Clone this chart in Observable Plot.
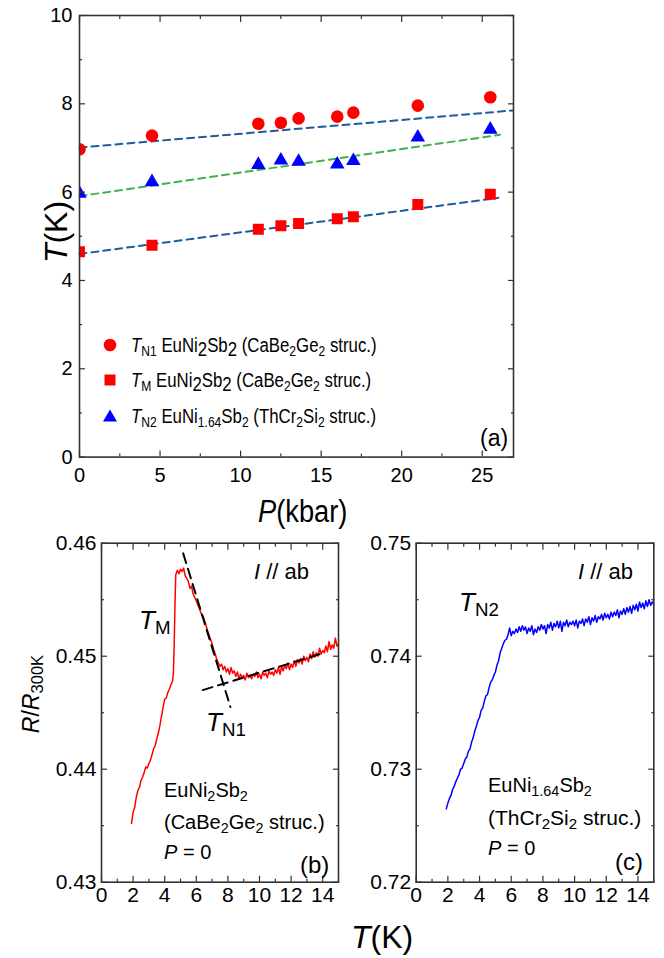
<!DOCTYPE html>
<html><head><meta charset="utf-8">
<script src="https://cdn.jsdelivr.net/npm/d3@7"></script>
<script src="https://cdn.jsdelivr.net/npm/@observablehq/plot@0.6"></script>
<style>
body{margin:0;background:#fff;}
#root{position:relative;width:664px;height:958px;overflow:hidden;font-family:"Liberation Sans",Arial,sans-serif;color:#000;}
.t{position:absolute;white-space:nowrap;line-height:1;}
.t sub{font-size:72%;vertical-align:-0.28em;line-height:0;}
.lo{vertical-align:-0.22em;line-height:0;}
.sx{display:inline-block;transform-origin:0 50%;}
</style></head><body><div id="root"></div>
<script>
// ---- panel (a): transition temperatures vs pressure ----
const pressure = [0, 4.5, 11.1, 12.5, 13.6, 16.0, 17.0, 21.0, 25.5];
const tN1 = [6.97, 7.28, 7.55, 7.57, 7.67, 7.71, 7.80, 7.96, 8.15];
const tM  = [4.65, 4.80, 5.16, 5.24, 5.29, 5.40, 5.44, 5.72, 5.95];
const tN2 = [5.97, 6.23, 6.62, 6.72, 6.69, 6.63, 6.71, 7.24, 7.42];
// dashed linear fits (end points)
const fitN1P = [0, 26.9], fitN1T = [7.01, 7.85];
const fitN2P = [0, 26.1], fitN2T = [5.91, 7.30];
const fitMP  = [0, 26.0], fitMT  = [4.60, 5.87];
const aXMajor = [0, 5, 10, 15, 20, 25], aXMinor = [2.5, 7.5, 12.5, 17.5, 22.5];
const aYMajor = [0, 2, 4, 6, 8, 10], aYMinor = [1, 3, 5, 7, 9];

// ---- panel (b): EuNi2Sb2 R/R300K vs T ----
const tempB = [1.9,2.0,2.1,2.2,2.3,2.4,2.5,2.6,2.7,2.8,2.9,3.0,3.1,3.2,3.3,3.4,3.5,3.6,3.7,3.8,3.9,4.0,4.1,4.2,4.3,4.4,4.5,4.55,4.6,4.65,4.7,4.8,4.9,5.0,5.1,5.2,5.3,5.4,5.5,5.6,5.7,5.8,5.9,6.0,6.1,6.2,6.3,6.4,6.5,6.6,6.7,6.8,6.9,7.0,7.1,7.2,7.3,7.4,7.5,7.6,7.7,7.8,7.9,8.0,8.1,8.2,8.3,8.4,8.5,8.6,8.7,8.8,8.9,9.0,9.1,9.2,9.3,9.4,9.5,9.6,9.7,9.8,9.9,10.0,10.1,10.2,10.3,10.4,10.5,10.6,10.7,10.8,10.9,11.0,11.1,11.2,11.3,11.4,11.5,11.6,11.7,11.8,11.9,12.0,12.1,12.2,12.3,12.4,12.5,12.6,12.7,12.8,12.9,13.0,13.1,13.2,13.3,13.4,13.5,13.6,13.7,13.8,13.9,14.0,14.1,14.2,14.3,14.4,14.5,14.6,14.7,14.8,14.9,15.0];
const rB = [0.4352,0.4362,0.4366,0.4375,0.4381,0.4384,0.4390,0.4393,0.4397,0.4402,0.4401,0.4405,0.4408,0.4413,0.4418,0.4421,0.4427,0.4432,0.4439,0.4447,0.4455,0.4462,0.4463,0.4468,0.4471,0.4475,0.4478,0.4485,0.4510,0.4545,0.4572,0.4576,0.4573,0.4577,0.4575,0.4578,0.4571,0.4569,0.4566,0.4560,0.4562,0.4555,0.4552,0.4549,0.4545,0.4542,0.4538,0.4536,0.4532,0.4528,0.4523,0.4519,0.4515,0.4511,0.4506,0.4502,0.4497,0.4494,0.4491,0.4493,0.4488,0.4491,0.4486,0.4489,0.4484,0.4490,0.4485,0.4487,0.4482,0.4486,0.4480,0.4484,0.4481,0.4483,0.4479,0.4485,0.4481,0.4483,0.4480,0.4484,0.4482,0.4486,0.4481,0.4484,0.4480,0.4486,0.4483,0.4485,0.4481,0.4487,0.4484,0.4486,0.4483,0.4488,0.4485,0.4490,0.4484,0.4491,0.4487,0.4492,0.4489,0.4494,0.4488,0.4493,0.4490,0.4496,0.4491,0.4497,0.4494,0.4498,0.4493,0.4500,0.4496,0.4499,0.4495,0.4502,0.4498,0.4504,0.4499,0.4503,0.4500,0.4507,0.4502,0.4505,0.4503,0.4509,0.4504,0.4513,0.4506,0.4510,0.4507,0.4516,0.4509,0.4511];
const guideAT = [5.17, 8.16], guideAR = [0.4591, 0.4455];
const guideBT = [6.41, 13.86], guideBR = [0.4470, 0.4502];

// ---- panel (c): EuNi1.64Sb2 R/R300K vs T ----
const tempC = [1.9,2.0,2.1,2.2,2.3,2.4,2.5,2.6,2.7,2.8,2.9,3.0,3.1,3.2,3.3,3.4,3.5,3.6,3.7,3.8,3.9,4.0,4.1,4.2,4.3,4.4,4.5,4.6,4.7,4.8,4.9,5.0,5.1,5.2,5.3,5.4,5.5,5.6,5.7,5.8,5.9,6.0,6.1,6.2,6.3,6.4,6.5,6.6,6.7,6.8,6.9,7.0,7.1,7.2,7.3,7.4,7.5,7.6,7.7,7.8,7.9,8.0,8.1,8.2,8.3,8.4,8.5,8.6,8.7,8.8,8.9,9.0,9.1,9.2,9.3,9.4,9.5,9.6,9.7,9.8,9.9,10.0,10.1,10.2,10.3,10.4,10.5,10.6,10.7,10.8,10.9,11.0,11.1,11.2,11.3,11.4,11.5,11.6,11.7,11.8,11.9,12.0,12.1,12.2,12.3,12.4,12.5,12.6,12.7,12.8,12.9,13.0,13.1,13.2,13.3,13.4,13.5,13.6,13.7,13.8,13.9,14.0,14.1,14.2,14.3,14.4,14.5,14.6,14.7,14.8,14.9,15.0];
const rC = [0.7265,0.7270,0.7274,0.7277,0.7282,0.7285,0.7289,0.7292,0.7295,0.7300,0.7301,0.7305,0.7309,0.7311,0.7316,0.7318,0.7324,0.7328,0.7334,0.7338,0.7343,0.7346,0.7352,0.7354,0.7360,0.7365,0.7366,0.7372,0.7377,0.7379,0.7383,0.7386,0.7392,0.7396,0.7403,0.7407,0.7411,0.7414,0.7415,0.7419,0.7425,0.7418,0.7422,0.7420,0.7424,0.7421,0.7426,0.7422,0.7427,0.7423,0.7426,0.7420,0.7425,0.7422,0.7427,0.7419,0.7424,0.7421,0.7426,0.7423,0.7428,0.7424,0.7427,0.7420,0.7428,0.7425,0.7430,0.7423,0.7429,0.7426,0.7431,0.7425,0.7431,0.7422,0.7430,0.7427,0.7432,0.7426,0.7430,0.7428,0.7431,0.7427,0.7432,0.7425,0.7431,0.7429,0.7433,0.7427,0.7433,0.7430,0.7435,0.7428,0.7434,0.7431,0.7436,0.7430,0.7435,0.7433,0.7437,0.7432,0.7438,0.7434,0.7437,0.7433,0.7439,0.7435,0.7439,0.7436,0.7441,0.7434,0.7440,0.7437,0.7442,0.7437,0.7443,0.7439,0.7444,0.7438,0.7445,0.7441,0.7446,0.7440,0.7448,0.7443,0.7447,0.7442,0.7449,0.7444,0.7450,0.7445,0.7448,0.7446];
const bXMajor = [0, 2, 4, 6, 8, 10, 12, 14], bXMinor = [1, 3, 5, 7, 9, 11, 13, 15];
const bYMajorB = [0.43, 0.44, 0.45, 0.46], bYMinorB = [0.435, 0.445, 0.455];
const bYMajorC = [0.72, 0.73, 0.74, 0.75], bYMinorC = [0.725, 0.735, 0.745];

const root = document.getElementById("root");
const FONT = '"Liberation Sans",Arial,sans-serif';
const AXC = "#333";

function boxAxes({xMajor, xMinor, yMajor, yMinor, xFmt, yFmt, fontSize, xPad, yPad}) {
  const none = () => "";
  const tk = {stroke: AXC, strokeWidth: 1.2, label: null, fontSize};
  return [
    Plot.axisX(xMajor, {...tk, anchor: "bottom", tickSize: -6, tickPadding: xPad, tickFormat: xFmt}),
    Plot.axisX(xMinor, {...tk, anchor: "bottom", tickSize: -3, tickFormat: none}),
    Plot.axisX(xMajor, {...tk, anchor: "top", tickSize: -6, tickFormat: none}),
    Plot.axisX(xMinor, {...tk, anchor: "top", tickSize: -3, tickFormat: none}),
    Plot.axisY(yMajor, {...tk, anchor: "left", tickSize: -6, tickPadding: yPad, tickFormat: yFmt}),
    Plot.axisY(yMinor, {...tk, anchor: "left", tickSize: -3, tickFormat: none}),
    Plot.axisY(yMajor, {...tk, anchor: "right", tickSize: -6, tickFormat: none}),
    Plot.axisY(yMinor, {...tk, anchor: "right", tickSize: -3, tickFormat: none}),
    Plot.frame({stroke: AXC, strokeWidth: 1.6})
  ];
}

function place(el, left, top) {
  el.style.position = "absolute"; el.style.left = left + "px"; el.style.top = top + "px";
  root.appendChild(el);
}
function text(html, x, y, size, sx = 1) {
  const d = document.createElement("div");
  d.className = "t";
  d.innerHTML = sx === 1 ? html : `<span class="sx" style="transform:scaleX(${sx})">${html}</span>`;
  d.style.cssText += `left:${x}px;top:${y}px;font-size:${size}px;transform:translateY(-50%);`;
  root.appendChild(d);
  return d;
}
function rtext(html, cx, cy, size) {
  const d = document.createElement("div");
  d.className = "t";
  d.innerHTML = html;
  d.style.cssText += `left:${cx}px;top:${cy}px;font-size:${size}px;transform:translate(-50%,-50%) rotate(-90deg);`;
  root.appendChild(d);
}

// ---------- panel (a) ----------
const rowsN1 = pressure.map((p, i) => ({p, t: tN1[i]}));
const rowsM  = pressure.map((p, i) => ({p, t: tM[i]}));
const rowsN2 = pressure.map((p, i) => ({p, t: tN2[i]}));
const fit = (P, T) => P.map((p, i) => ({p, t: T[i]}));

const plotA = Plot.plot({
  width: 664, height: 530,
  marginLeft: 79, marginRight: 151, marginTop: 15, marginBottom: 73.4,
  x: {domain: [0, 26.94]}, y: {domain: [0, 10]},
  style: {fontFamily: FONT, color: "#000", background: "transparent", overflow: "visible"},
  marks: [
    Plot.line(fit(fitN1P, fitN1T), {x: "p", y: "t", stroke: "#1f5c9e", strokeWidth: 2, strokeDasharray: "7,5"}),
    Plot.line(fit(fitN2P, fitN2T), {x: "p", y: "t", stroke: "#3fb24a", strokeWidth: 2, strokeDasharray: "7,5"}),
    Plot.line(fit(fitMP, fitMT), {x: "p", y: "t", stroke: "#1f5c9e", strokeWidth: 2, strokeDasharray: "7,5"}),
    Plot.dot(rowsN1, {x: "p", y: "t", r: 6.3, symbol: "circle", fill: "#ff0000", clip: true}),
    Plot.dot(rowsM, {x: "p", y: "t", r: 6.2, symbol: "square", fill: "#ff0000", clip: true}),
    Plot.dot(rowsN2, {x: "p", y: "t", r: 5.4, symbol: "triangle", fill: "#0000ff", clip: true}),
    ...boxAxes({xMajor: aXMajor, xMinor: aXMinor, yMajor: aYMajor, yMinor: aYMinor,
      xFmt: d => String(d), yFmt: d => String(d), fontSize: 20, xPad: 17, yPad: 13})
  ]
});
place(plotA, 0, 0);

rtext('<i>T</i>(K)', 56, 232, 32);
text('<i>P</i>(kbar)', 258, 511, 31, 0.88);
text('(a)', 480, 438, 23);

// legend for panel (a)
const sym = {
  circle: '<svg width="16" height="16" style="position:absolute;left:-29px;top:50%;margin-top:-8px"><circle cx="8" cy="8" r="6.3" fill="#ff0000"/></svg>',
  square: '<svg width="16" height="16" style="position:absolute;left:-29px;top:50%;margin-top:-8px"><rect x="2.5" y="2.5" width="11" height="11" fill="#ff0000"/></svg>',
  triangle: '<svg width="16" height="16" style="position:absolute;left:-29px;top:50%;margin-top:-8px"><path d="M8,1.5L15,13.5H1Z" fill="#0000ff"/></svg>'
};
function legendRow(symbol, html, y) {
  const d = text(html, 131, y, 20, 0.84);
  d.insertAdjacentHTML("afterbegin", symbol);
}
legendRow(sym.circle, '<i>T</i><sub>N1</sub> EuNi<span class="lo">2</span>Sb<span class="lo">2</span> (CaBe<sub>2</sub>Ge<sub>2</sub> struc.)', 345);
legendRow(sym.square, '<i>T</i><sub>M</sub> EuNi<span class="lo">2</span>Sb<span class="lo">2</span> (CaBe<sub>2</sub>Ge<sub>2</sub> struc.)', 380);
legendRow(sym.triangle, '<i>T</i><sub>N2</sub> EuNi<sub>1.64</sub>Sb<sub>2</sub> (ThCr<sub>2</sub>Si<sub>2</sub> struc.)', 416);

// ---------- panel (b) ----------
const rowsB = tempB.map((t, i) => ({t, r: rB[i]}));
const plotB = Plot.plot({
  width: 345, height: 380,
  marginLeft: 101, marginRight: 7, marginTop: 12.7, marginBottom: 28.3,
  x: {domain: [0, 15]}, y: {domain: [0.43, 0.46]},
  style: {fontFamily: FONT, color: "#000", background: "transparent", overflow: "visible"},
  marks: [
    Plot.line(rowsB, {x: "t", y: "r", stroke: "#ff0000", strokeWidth: 1.5}),
    Plot.line(fit(guideAT, guideAR).map(d => ({t: d.p, r: d.t})), {x: "t", y: "r", stroke: "#000", strokeWidth: 2, strokeDasharray: "10,6"}),
    Plot.line(fit(guideBT, guideBR).map(d => ({t: d.p, r: d.t})), {x: "t", y: "r", stroke: "#000", strokeWidth: 2, strokeDasharray: "10,6"}),
    ...boxAxes({xMajor: bXMajor, xMinor: bXMinor, yMajor: bYMajorB, yMinor: bYMinorB,
      xFmt: d => String(d), yFmt: d3.format(".2f"), fontSize: 21, xPad: 11, yPad: 11})
  ]
});
place(plotB, 0, 530);

// ---------- panel (c) ----------
const rowsC = tempC.map((t, i) => ({t, r: rC[i]}));
const plotC = Plot.plot({
  width: 334, height: 380,
  marginLeft: 85.7, marginRight: 10.7, marginTop: 12.7, marginBottom: 28.3,
  x: {domain: [0, 15]}, y: {domain: [0.72, 0.75]},
  style: {fontFamily: FONT, color: "#000", background: "transparent", overflow: "visible"},
  marks: [
    Plot.line(rowsC, {x: "t", y: "r", stroke: "#0000ff", strokeWidth: 1.5}),
    ...boxAxes({xMajor: bXMajor, xMinor: bXMinor, yMajor: bYMajorC, yMinor: bYMinorC,
      xFmt: d => String(d), yFmt: d3.format(".2f"), fontSize: 21, xPad: 11, yPad: 11})
  ]
});
place(plotC, 330, 530);

// axis titles for bottom panels
rtext('<i>R</i>/<i>R</i><sub>300K</sub>', 31, 694, 23);
text('<i>T</i>(K)', 351, 937, 32);

// annotations panel (b)
text('<i>I</i> // ab', 254, 572, 22);
text('<i>T</i><sub>M</sub>', 139, 620, 26);
text('<i>T</i><sub>N1</sub>', 206, 722, 26);
text('EuNi<sub>2</sub>Sb<sub>2</sub>', 164, 790, 20);
text('(CaBe<sub>2</sub>Ge<sub>2</sub> struc.)', 164, 822, 20);
text('<i>P</i> = 0', 164, 852, 20);
text('(b)', 300, 865, 24);

// annotations panel (c)
text('<i>I</i> // ab', 578, 572, 22);
text('<i>T</i><sub>N2</sub>', 459, 602, 26);
text('EuNi<sub>1.64</sub>Sb<sub>2</sub>', 488, 785, 20);
text('(ThCr<sub>2</sub>Si<sub>2</sub> struc.)', 488, 817, 21);
text('<i>P</i> = 0', 488, 848, 20);
text('(c)', 615, 862, 24);
</script></body></html>
